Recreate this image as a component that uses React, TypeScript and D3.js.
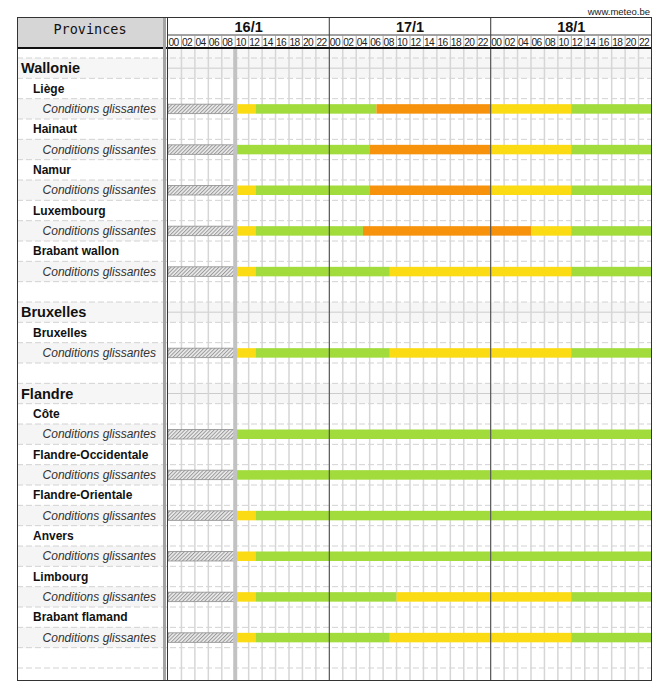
import * as d3 from "d3";

// jours et heures de l'en-tête
const dayLabels = ["16/1", "17/1", "18/1"];
const hourTicks = ["00", "02", "04", "06", "08", "10", "12", "14", "16", "18", "20", "22"];

// lignes du tableau : kind = region | province | cond | blank
const rowLabels = [
  "Wallonie", "Liège", "Conditions glissantes", "Hainaut", "Conditions glissantes",
  "Namur", "Conditions glissantes", "Luxembourg", "Conditions glissantes",
  "Brabant wallon", "Conditions glissantes", "",
  "Bruxelles", "Bruxelles", "Conditions glissantes", "",
  "Flandre", "Côte", "Conditions glissantes", "Flandre-Occidentale", "Conditions glissantes",
  "Flandre-Orientale", "Conditions glissantes", "Anvers", "Conditions glissantes",
  "Limbourg", "Conditions glissantes", "Brabant flamand", "Conditions glissantes", "",
];
const rowKinds = [
  "region", "province", "cond", "province", "cond", "province", "cond", "province", "cond",
  "province", "cond", "blank",
  "region", "province", "cond", "blank",
  "region", "province", "cond", "province", "cond", "province", "cond", "province", "cond",
  "province", "cond", "province", "cond", "blank",
];

// segments d'avertissement par ligne "cond" : [début h, fin h, niveau]
// niveau 0 = passé (hachuré), 1 = vert, 2 = jaune, 3 = orange
const warnings: [number, number, number][][] = [
  [[0, 10, 0], [10, 13, 2], [13, 31, 1], [31, 48, 3], [48, 60, 2], [60, 72, 1]], // Liège
  [[0, 10, 0], [10, 30, 1], [30, 48, 3], [48, 60, 2], [60, 72, 1]], // Hainaut
  [[0, 10, 0], [10, 13, 2], [13, 30, 1], [30, 48, 3], [48, 60, 2], [60, 72, 1]], // Namur
  [[0, 10, 0], [10, 13, 2], [13, 29, 1], [29, 54, 3], [54, 60, 2], [60, 72, 1]], // Luxembourg
  [[0, 10, 0], [10, 13, 2], [13, 33, 1], [33, 60, 2], [60, 72, 1]], // Brabant wallon
  [[0, 10, 0], [10, 13, 2], [13, 33, 1], [33, 60, 2], [60, 72, 1]], // Bruxelles
  [[0, 10, 0], [10, 72, 1]], // Côte
  [[0, 10, 0], [10, 72, 1]], // Flandre-Occidentale
  [[0, 10, 0], [10, 13, 2], [13, 72, 1]], // Flandre-Orientale
  [[0, 10, 0], [10, 13, 2], [13, 72, 1]], // Anvers
  [[0, 10, 0], [10, 13, 2], [13, 34, 1], [34, 60, 2], [60, 72, 1]], // Limbourg
  [[0, 10, 0], [10, 13, 2], [13, 33, 1], [33, 60, 2], [60, 72, 1]], // Brabant flamand
];
const nowHour = 10;

const levelFill = ["url(#hatch)", "#a2dc3c", "#fbdc14", "#f7920c"];

export default function App() {
  const W = 664,
    H = 693;
  const left = 17,
    split = 167,
    right = 652,
    top = 17,
    hourTop = 35,
    headBottom = 48,
    bottom = 681;
  const font = "'Liberation Sans', Arial, sans-serif";

  const x = d3.scaleLinear().domain([0, 72]).range([split + 1, right]);
  const y = d3.scaleLinear().domain([0, rowKinds.length]).range([58, 668]);
  const rh = y(1) - y(0);

  let condIdx = -1;
  const bars = rowKinds.map((k, i) => {
    if (k !== "cond") return null;
    condIdx++;
    return warnings[condIdx].map((s, j) => (
      <rect
        key={`${i}-${j}`}
        x={x(s[0])}
        y={y(i) + 5.5}
        width={x(s[1]) - x(s[0])}
        height={9.5}
        fill={levelFill[s[2]]}
        stroke={s[2] === 0 ? "#8e8e8e" : "none"}
        strokeWidth={0.8}
      />
    ));
  });

  const hours = d3.range(0, 72, 2);

  return (
    <svg
      width={W}
      height={H}
      style={{ position: "absolute", left: 0, top: 0, background: "#fff" }}
      fontFamily={font}
    >
      <defs>
        <pattern id="hatch" width={2.6} height={2.6} patternUnits="userSpaceOnUse" patternTransform="rotate(45)">
          <rect width={2.6} height={2.6} fill="#ececec" />
          <line x1={0.5} y1={0} x2={0.5} y2={2.6} stroke="#999" strokeWidth={1} />
        </pattern>
      </defs>

      <text x={650} y={15} fontSize={9.5} textAnchor="end" fill="#222">
        www.meteo.be
      </text>

      {/* fonds des lignes */}
      {rowKinds.map((k, i) =>
        k === "region" ? (
          <rect key={i} x={left} y={y(i)} width={right - left} height={rh} fill="#f6f6f6" />
        ) : k === "cond" ? (
          <rect key={i} x={left} y={y(i)} width={split - left - 4} height={rh} fill="#f5f5f5" />
        ) : null
      )}
      <rect x={split} y={headBottom} width={right - split} height={y(0) - headBottom} fill="#f8f8f8" />

      {/* lignes pointillées */}
      {d3.range(0, rowKinds.length + 1).map((i) => (
        <line
          key={i}
          x1={left}
          x2={right}
          y1={y(i)}
          y2={y(i)}
          stroke="#d2d2d2"
          strokeDasharray="6,3"
        />
      ))}
      {rowKinds.map((k, i) =>
        k === "region" ? (
          <line key={i} x1={split} x2={right} y1={y(i) + rh / 2} y2={y(i) + rh / 2} stroke="#cccccc" />
        ) : null
      )}

      {/* grille horaire */}
      {hours.map((h) =>
        h % 24 === 0 ? null : (
          <line key={h} x1={x(h)} x2={x(h)} y1={headBottom} y2={bottom} stroke="#d6d6d6" strokeWidth={1.5} />
        )
      )}

      {/* barres */}
      {bars}

      {/* ligne maintenant */}
      <line x1={x(nowHour)} x2={x(nowHour)} y1={headBottom} y2={bottom} stroke="#c2c2c2" strokeWidth={4} />

      {/* séparateurs de jours */}
      {[24, 48].map((h) => (
        <line key={h} x1={x(h)} x2={x(h)} y1={top} y2={bottom} stroke="#555" strokeWidth={1.2} />
      ))}

      {/* en-tête */}
      <rect x={left} y={top} width={split - 4 - left} height={headBottom - top} fill="#d6d6d6" />
      <text
        x={(left + split - 4) / 2}
        y={33.5}
        textAnchor="middle"
        fontSize={13.5}
        fontFamily="'DejaVu Sans Mono', monospace"
        fill="#111"
      >
        Provinces
      </text>
      {dayLabels.map((d, i) => (
        <text key={d} x={x(i * 24 + 12)} y={32} textAnchor="middle" fontSize={14.5} fontWeight="bold" fill="#111">
          {d}
        </text>
      ))}
      <line x1={split} x2={right} y1={hourTop} y2={hourTop} stroke="#444" strokeWidth={1} />
      {hours.map((h) => (
        <g key={h}>
          {h % 24 !== 0 && (
            <line x1={x(h)} x2={x(h)} y1={hourTop} y2={headBottom} stroke="#999" strokeWidth={0.8} />
          )}
          <text x={x(h) + 0.5} y={45.5} fontSize={10.2} letterSpacing={-0.6} fill="#222">
            {hourTicks[(h % 24) / 2]}
          </text>
        </g>
      ))}
      <line x1={left} x2={right} y1={headBottom} y2={headBottom} stroke="#111" strokeWidth={2} />

      {/* séparateur gauche */}
      <rect x={split - 4} y={top} width={3} height={bottom - top} fill="#a4a4a4" />
      <line x1={split + 0.5} x2={split + 0.5} y1={top} y2={bottom} stroke="#333" strokeWidth={1} />

      {/* cadre */}
      <rect x={left + 0.5} y={top + 0.5} width={right - left - 1} height={bottom - top - 1} fill="none" stroke="#333" strokeWidth={1} />

      {/* libellés */}
      {rowLabels.map((t, i) => {
        const k = rowKinds[i];
        const cy = y(i) + rh / 2;
        if (k === "region")
          return (
            <text key={i} x={21} y={cy + 5} fontSize={14.5} fontWeight="bold" fill="#111">
              {t}
            </text>
          );
        if (k === "province")
          return (
            <text key={i} x={33} y={cy + 4} fontSize={12} fontWeight="bold" fill="#111">
              {t}
            </text>
          );
        if (k === "cond")
          return (
            <text key={i} x={156} y={cy + 4} fontSize={12} fontStyle="italic" textAnchor="end" fill="#333">
              {t}
            </text>
          );
        return null;
      })}
    </svg>
  );
}
